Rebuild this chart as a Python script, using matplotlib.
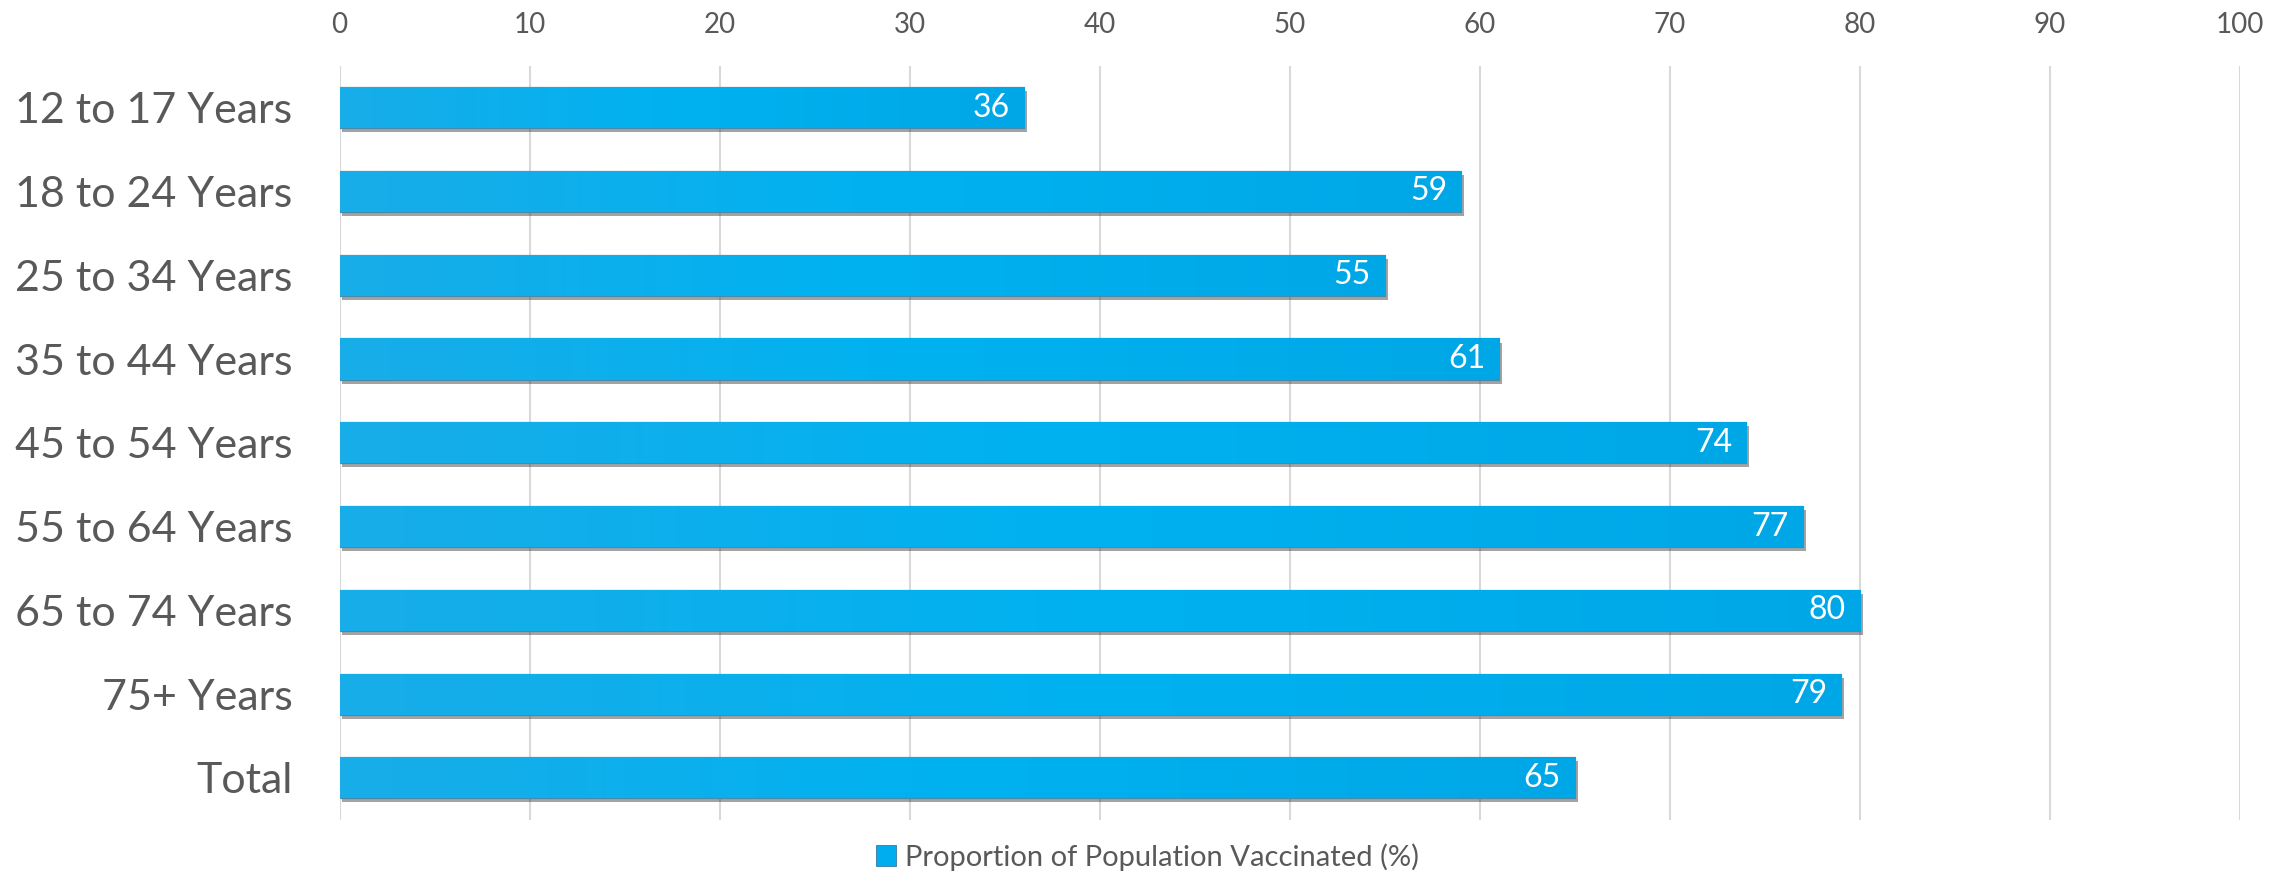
import numpy as np
import matplotlib
matplotlib.use('Agg')
import matplotlib.pyplot as plt
import matplotlib.patheffects as pe
from matplotlib.colors import LinearSegmentedColormap
from matplotlib.patches import Patch

plt.rcParams['font.family'] = ['Lato', 'DejaVu Sans']

# data
groups = ['12 to 17 Years', '18 to 24 Years', '25 to 34 Years', '35 to 44 Years',
          '45 to 54 Years', '55 to 64 Years', '65 to 74 Years', '75+ Years', 'Total']
vaccinated = [36, 59, 55, 61, 74, 77, 80, 79, 65]
xticks = list(range(0, 101, 10))
series_name = 'Proportion of Population Vaccinated (%)'

grey = '#595959'
blue = '#00AEEF'
grad = LinearSegmentedColormap.from_list('bar', ['#18ADE9', '#00B2F0', '#00A7E7'])

fig = plt.figure(figsize=(22.95, 8.9), dpi=100)
ax = fig.add_axes([0.148, 0.079, 0.828, 0.847])

ypos = np.arange(len(groups))
h = 0.49
bars = ax.barh(ypos, vaccinated, height=h, color=blue, edgecolor='#4a8aa8',
               linewidth=0.8, zorder=3,
               path_effects=[pe.withSimplePatchShadow(offset=(2, -3), shadow_rgbFace='#333333', alpha=0.45),
                             pe.Normal()])

g = np.linspace(0, 1, 256).reshape(1, -1)
for b, y, v in zip(bars, ypos, vaccinated):
    im = ax.imshow(g, cmap=grad, extent=[0, v, y + h / 2, y - h / 2],
                   aspect='auto', zorder=3.5)
    im.set_clip_path(b)
    ax.annotate(str(v), xy=(v, y), xytext=(-10, 0), textcoords='offset points',
                ha='right', va='center', color='white', fontsize=23, zorder=5)

ax.set_xlim(0, 100)
ax.set_ylim(len(groups) - 0.5, -0.5)
ax.set_yticks(ypos)
ax.set_yticklabels(groups)
ax.set_xticks(xticks)
ax.xaxis.tick_top()
ax.tick_params(axis='x', length=0, pad=20, labelsize=20, labelcolor=grey)
ax.tick_params(axis='y', length=0, pad=34, labelsize=31, labelcolor=grey)
ax.grid(axis='x', color='#d9d9d9', linewidth=1.5, zorder=0)
ax.set_axisbelow(True)
for s in ax.spines.values():
    s.set_visible(False)

handle = Patch(facecolor=blue, edgecolor='#3a7a9a', linewidth=0.6)
fig.legend([handle], [series_name], loc='lower center', bbox_to_anchor=(0.5, -0.008),
           frameon=False, fontsize=21, labelcolor=grey, handlelength=0.7,
           handleheight=0.7, handletextpad=0.3)

fig.savefig('out.png', dpi=100)
